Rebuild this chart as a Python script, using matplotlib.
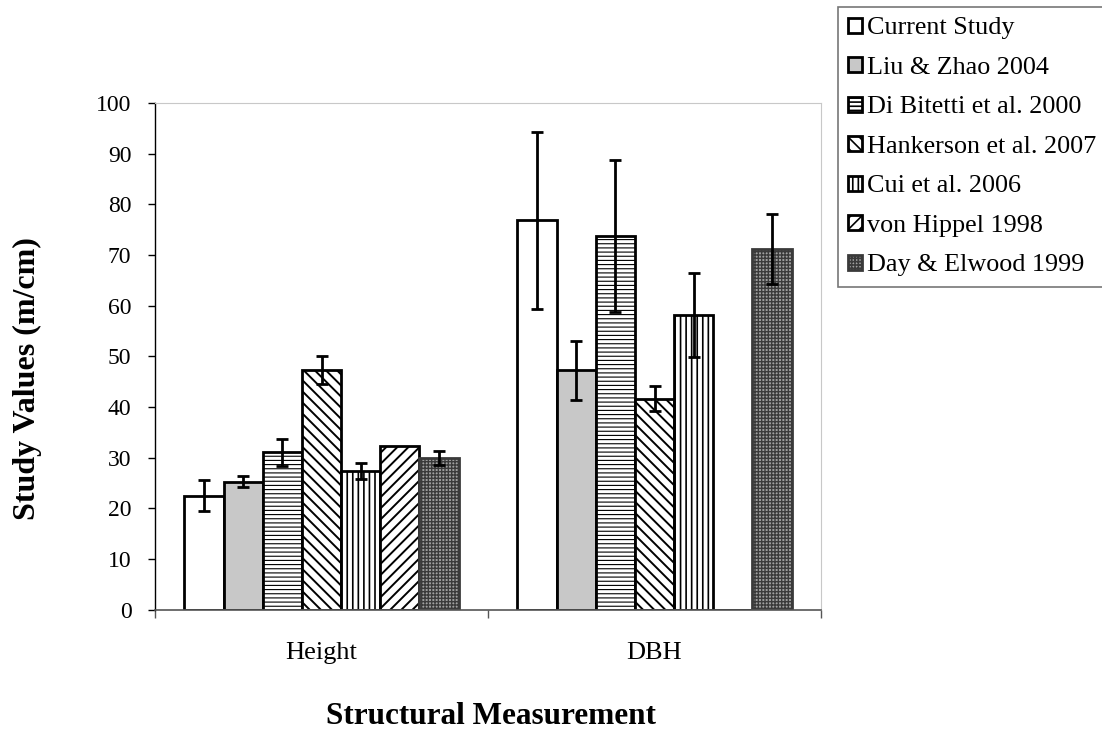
import matplotlib
matplotlib.use("Agg")
import matplotlib.pyplot as plt
import numpy as np

categories = ["Height", "DBH"]
studies = ["Current Study", "Liu & Zhao 2004", "Di Bitetti et al. 2000",
           "Hankerson et al. 2007", "Cui et al. 2006", "von Hippel 1998",
           "Day & Elwood 1999"]
height_vals = [22.5, 25.2, 31.0, 47.3, 27.4, 32.2, 29.9]
height_err = [3.1, 1.1, 2.6, 2.7, 1.6, 0.0, 1.3]
dbh_vals = [76.8, 47.2, 73.7, 41.6, 58.2, 0.0, 71.2]
dbh_err = [17.5, 5.9, 15.0, 2.5, 8.3, 0.0, 6.9]

facecolors = ["white", "#c8c8c8", "white", "white", "white", "white", "#a0a0a0"]
hatches = [None, None, "----", "\\\\\\", "|||", "///", "+++++"]
hatch_lw = [1.0, 1.0, 0.8, 1.4, 1.2, 1.4, 1.0]
edgecolors = ["black", "black", "black", "black", "black", "black", "#3a3a3a"]

plt.rcParams["font.family"] = ["Liberation Serif", "DejaVu Serif"]
plt.rcParams["hatch.linewidth"] = 1.2

fig = plt.figure(figsize=(11.02, 7.30), dpi=100)
ax = fig.add_axes([0.1407, 0.165, 0.6043, 0.694])

n = len(studies)
w = 1.0 / 8.5
x = np.arange(len(categories))
vals = np.array([height_vals, dbh_vals])
errs = np.array([height_err, dbh_err])

handles = []
for i in range(n):
    pos = x + (i - (n - 1) / 2) * w
    v = vals[:, i]
    e = errs[:, i]
    bars = ax.bar(pos, v, width=w, facecolor=facecolors[i], edgecolor=edgecolors[i],
                  hatch=hatches[i], linewidth=2, label=studies[i], zorder=2)
    for p in bars.patches:
        if hasattr(p, "set_hatch_linewidth"):
            p.set_hatch_linewidth(hatch_lw[i])
    handles.append(bars)
    mask = e > 0
    if mask.any():
        ax.errorbar(pos[mask], v[mask], yerr=e[mask], fmt="none", ecolor="black",
                    elinewidth=2, capsize=4.5, capthick=2, zorder=3)

ax.set_xlim(-0.5, 1.5)
ax.set_ylim(0, 100)
ax.set_yticks(np.arange(0, 101, 10))
ax.set_xticks(x)
ax.set_xticklabels(categories)
ax.set_xticks([-0.5, 0.5, 1.5], minor=True)
ax.tick_params(axis="x", which="major", length=0, pad=23.5, labelsize=19)
ax.tick_params(axis="x", which="minor", length=6, width=1, color="#555555")
ax.tick_params(axis="y", length=5, width=1, labelsize=17, pad=12)

for s in ["top", "right"]:
    ax.spines[s].set_color("#c8c8c8")
    ax.spines[s].set_linewidth(0.8)
ax.spines["left"].set_color("black")
ax.spines["left"].set_linewidth(1)
ax.spines["bottom"].set_color("#555555")
ax.spines["bottom"].set_linewidth(1.2)

fig.text(27 / 1102, 1 - 379 / 730, "Study Values (m/cm)", rotation=90,
         ha="center", va="center", fontsize=23, fontweight="bold")
fig.text(491 / 1102, 1 - 724 / 730, "Structural Measurement",
         ha="center", va="baseline", fontsize=22.5, fontweight="bold")

leg = fig.legend(handles=handles, labels=studies, loc="upper left",
                 bbox_to_anchor=(838 / 1102, 1 - 7 / 730), bbox_transform=fig.transFigure,
                 borderaxespad=0, fontsize=18.8, frameon=True, fancybox=False,
                 handlelength=0.5, handleheight=0.5, handletextpad=0.2,
                 labelspacing=0.67, borderpad=0.4)
leg.get_frame().set_edgecolor("#555555")
leg.get_frame().set_linewidth(1.2)

fig.savefig("out.png", dpi=100)
